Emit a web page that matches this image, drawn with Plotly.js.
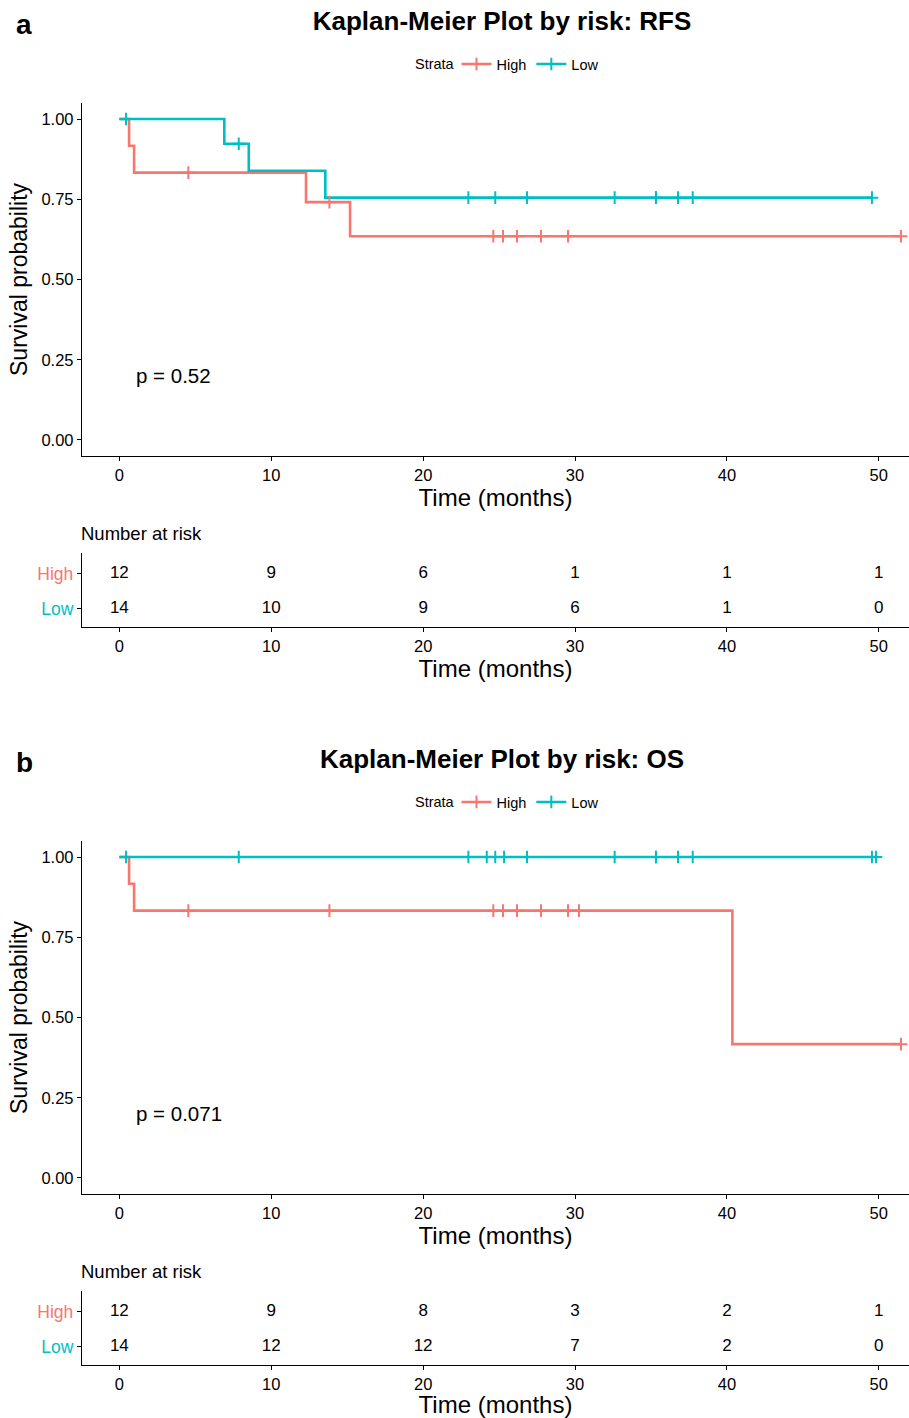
<!DOCTYPE html>
<html><head><meta charset="utf-8">
<script src="https://cdn.plot.ly/plotly-3.0.1.min.js"></script>
<style>html,body{margin:0;padding:0;overflow:hidden;background:#fff}</style>
</head><body>
<div id="pa" style="width:909px;height:738px"></div>
<div id="pb" style="width:909px;height:680px"></div>
<script>
// ---------- data ----------
const riskTimes = [0, 10, 20, 30, 40, 50];
const strata = ['High', 'Low'];
const colHigh = '#F8766D', colLow = '#00BFC4';

// Panel a: RFS
const rfsHighStepT = [0, 0.64, 0.97, 12.29, 15.19, 51.46];
const rfsHighStepS = [1, 0.917, 0.833, 0.741, 0.635, 0.635];
const rfsHighCensT = [4.54, 13.83, 24.62, 25.26, 26.18, 27.76, 29.54, 51.46];
const rfsHighCensS = [0.833, 0.741, 0.635, 0.635, 0.635, 0.635, 0.635, 0.635];
const rfsLowStepT = [0, 6.91, 8.52, 13.56, 49.55];
const rfsLowStepS = [1, 0.923, 0.839, 0.755, 0.755];
const rfsLowCensT = [0.44, 7.86, 22.98, 24.75, 26.84, 32.61, 35.33, 35.33, 36.78, 37.75, 49.55];
const rfsLowCensS = [1, 0.923, 0.755, 0.755, 0.755, 0.755, 0.755, 0.755, 0.755, 0.755, 0.755];
const rfsRiskHigh = [12, 9, 6, 1, 1, 1];
const rfsRiskLow = [14, 10, 9, 6, 1, 0];
const rfsP = 'p = 0.52';

// Panel b: OS
const osHighStepT = [0, 0.64, 0.97, 40.36, 51.46];
const osHighStepS = [1, 0.917, 0.833, 0.417, 0.417];
const osHighCensT = [4.54, 13.83, 24.62, 25.26, 26.18, 27.76, 29.54, 30.26, 51.46];
const osHighCensS = [0.833, 0.833, 0.833, 0.833, 0.833, 0.833, 0.833, 0.833, 0.417];
const osLowStepT = [0, 49.82];
const osLowStepS = [1, 1];
const osLowCensT = [0.44, 7.86, 22.98, 24.19, 24.75, 25.33, 26.84, 32.61, 35.33, 35.33, 36.78, 37.75, 49.55, 49.82];
const osLowCensS = [1, 1, 1, 1, 1, 1, 1, 1, 1, 1, 1, 1, 1, 1];
const osRiskHigh = [12, 9, 8, 3, 2, 1];
const osRiskLow = [14, 12, 12, 7, 2, 0];
const osP = 'p = 0.071';

const yTicks = [0, 0.25, 0.5, 0.75, 1];
const yTickText = ['0.00', '0.25', '0.50', '0.75', '1.00'];

// ---------- drawing ----------
const FONT = 'Liberation Sans, Arial, Helvetica, sans-serif';

function panel(divId, H, letter, title, d) {
  const top = 103, mainBot = 456, riskTop = 553, bot = 627, L = 82;
  const plotH = bot - top, plotW = 909 - L;
  const py = v => (bot - v) / plotH;     // px -> paper y
  const px = v => (v - L) / plotW;       // px -> paper x

  const censMarker = c => ({symbol: 'cross-thin-open', size: 9, color: c, line: {width: 2, color: c}});
  const traces = [
    {x: d.hT, y: d.hS, mode: 'lines', line: {shape: 'hv', color: colHigh, width: 2.6}, showlegend: false, xaxis: 'x', yaxis: 'y', hoverinfo: 'skip'},
    {x: d.lT, y: d.lS, mode: 'lines', line: {shape: 'hv', color: colLow, width: 2.6}, showlegend: false, xaxis: 'x', yaxis: 'y', hoverinfo: 'skip'},
    {x: d.hCT, y: d.hCS, mode: 'markers', marker: censMarker(colHigh), showlegend: false, xaxis: 'x', yaxis: 'y'},
    {x: d.lCT, y: d.lCS, mode: 'markers', marker: censMarker(colLow), showlegend: false, xaxis: 'x', yaxis: 'y'},
    // legend entries
    {x: [null], y: [null], name: strata[0], mode: 'lines+markers', line: {color: colHigh, width: 2.6}, marker: censMarker(colHigh), xaxis: 'x', yaxis: 'y'},
    {x: [null], y: [null], name: strata[1], mode: 'lines+markers', line: {color: colLow, width: 2.6}, marker: censMarker(colLow), xaxis: 'x', yaxis: 'y'},
    // risk table
    {x: riskTimes, y: riskTimes.map(() => 2), text: d.rH.map(String), mode: 'text', textfont: {size: 17, color: '#000', family: FONT}, showlegend: false, xaxis: 'x2', yaxis: 'y2', hoverinfo: 'skip'},
    {x: riskTimes, y: riskTimes.map(() => 1), text: d.rL.map(String), mode: 'text', textfont: {size: 17, color: '#000', family: FONT}, showlegend: false, xaxis: 'x2', yaxis: 'y2', hoverinfo: 'skip'}
  ];

  const xBase = {
    range: [-2.46, 51.99], tickvals: riskTimes, showline: true, linecolor: '#000', linewidth: 1.2,
    ticks: 'outside', ticklen: 4, tickcolor: '#000', showgrid: false, zeroline: false,
    tickfont: {size: 16.5, color: '#000', family: FONT},
    title: {text: 'Time (months)', font: {size: 24, color: '#000', family: FONT}, standoff: 1},
    fixedrange: true
  };
  const layout = {
    width: 909, height: H,
    margin: {l: L, r: 0, t: top, b: H - bot},
    paper_bgcolor: '#fff', plot_bgcolor: '#fff',
    font: {family: FONT, color: '#000'},
    showlegend: true,
    legend: {orientation: 'h', xref: 'container', yref: 'container', x: 530 / 909, xanchor: 'center',
             y: 1 - 64 / H, yanchor: 'middle',
             font: {size: 14.5, family: FONT, color: '#000'}, bgcolor: 'rgba(0,0,0,0)', itemwidth: 30},
    title: {text: '<b>' + title + '</b>', x: 502 / 909, xanchor: 'center', y: 1 - 21 / H, yanchor: 'middle',
            xref: 'container', yref: 'container', font: {size: 26, color: '#000', family: FONT}},
    xaxis: Object.assign({}, xBase, {domain: [0, 1], anchor: 'y'}),
    yaxis: {domain: [py(mainBot), 1], anchor: 'x', range: [-0.05, 1.05], tickvals: yTicks, ticktext: yTickText,
            showline: true, linecolor: '#000', linewidth: 1.2, ticks: 'outside', ticklen: 4, tickcolor: '#000',
            showgrid: false, zeroline: false, tickfont: {size: 16.5, color: '#000', family: FONT},
            title: {text: 'Survival probability', font: {size: 23, color: '#000', family: FONT}, standoff: 7}, fixedrange: true},
    xaxis2: Object.assign({}, xBase, {domain: [0, 1], anchor: 'y2'}),
    yaxis2: {domain: [0, py(riskTop)], anchor: 'x2', range: [0.49, 2.58], tickvals: [1, 2],
             ticktext: ['<span style="color:' + colLow + '">' + strata[1] + '</span>',
                        '<span style="color:' + colHigh + '">' + strata[0] + '</span>'],
             showline: true, linecolor: '#000', linewidth: 1.2, ticks: 'outside', ticklen: 4, tickcolor: '#000',
             showgrid: false, zeroline: false, tickfont: {size: 17.5, family: FONT}, fixedrange: true},
    annotations: [
      {text: '<b>' + letter + '</b>', xref: 'paper', yref: 'paper', x: px(24), y: py(24), xanchor: 'center', yanchor: 'middle',
       showarrow: false, font: {size: 28, color: '#000', family: FONT}},
      {text: 'Strata', xref: 'paper', yref: 'paper', x: px(413), y: py(64), xanchor: 'left', yanchor: 'middle',
       showarrow: false, font: {size: 14.5, color: '#000', family: FONT}},
      {text: 'Number at risk', xref: 'paper', yref: 'paper', x: px(79), y: py(533), xanchor: 'left', yanchor: 'middle',
       showarrow: false, font: {size: 18.5, color: '#000', family: FONT}},
      {text: d.p, xref: 'x', yref: 'y', x: 0.95, y: 0.2, xanchor: 'left', yanchor: 'middle',
       showarrow: false, font: {size: 20.5, color: '#000', family: FONT}}
    ]
  };
  Plotly.newPlot(divId, traces, layout, {displayModeBar: false, staticPlot: true});
}

panel('pa', 738, 'a', 'Kaplan-Meier Plot by risk: RFS', {
  hT: rfsHighStepT, hS: rfsHighStepS, lT: rfsLowStepT, lS: rfsLowStepS,
  hCT: rfsHighCensT, hCS: rfsHighCensS, lCT: rfsLowCensT, lCS: rfsLowCensS,
  rH: rfsRiskHigh, rL: rfsRiskLow, p: rfsP});
panel('pb', 680, 'b', 'Kaplan-Meier Plot by risk: OS', {
  hT: osHighStepT, hS: osHighStepS, lT: osLowStepT, lS: osLowStepS,
  hCT: osHighCensT, hCS: osHighCensS, lCT: osLowCensT, lCS: osLowCensS,
  rH: osRiskHigh, rL: osRiskLow, p: osP});
</script>
</body></html>
